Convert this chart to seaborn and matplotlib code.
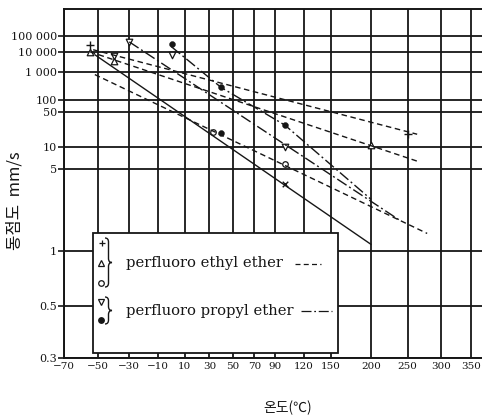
import numpy as np
import matplotlib
matplotlib.use('Agg')
import matplotlib.pyplot as plt
import seaborn as sns
from matplotlib.patches import Rectangle, PathPatch
from matplotlib.path import Path
from matplotlib.lines import Line2D
from matplotlib.transforms import Affine2D

W, H = 482, 418

# axis ticks
x_ticks = [-70, -50, -30, -10, 10, 30, 50, 70, 90, 120, 150, 200, 250, 300, 350]
x_labels = ['−70', '−50', '−30', '−10', '10', '30', '50', '70', '90',
            '120', '150', '200', '250', '300', '350']
y_ticks = [0.3, 0.5, 1, 5, 10, 50, 100, 1000, 10000, 100000]
y_labels = ['0.3', '0.5', '1', '5', '10', '50', '100', '1 000', '10 000', '100 000']

# perfluoro ethyl ether (dashed lines)
eth_plus_T = [-53, 264]
eth_plus_v = [12800, 16.6]
eth_tri_T = [-55, 264]
eth_tri_v = [9800, 6.3]
eth_circ_T = [-52, 279]
eth_circ_v = [770, 1.3]

# perfluoro propyl ether (dash-dot lines)
pro_tri_T = [-30, 240]
pro_tri_v = [39000, 1.6]
pro_dot_T = [0, 40, 100, 200]
pro_dot_v = [19100, 253, 25, 2.4]

# solid line
ref_T = [-52, 200]
ref_v = [6700, 1.1]

# measured points
mk_plus_T = [-55, 250]
mk_plus_v = [25500, 17]
mk_up_T = [-55, -40, 200]
mk_up_v = [9800, 3300, 11]
mk_circ_T = [33, 100]
mk_circ_v = [18, 5.8]
mk_down_T = [-30, -40, 0, 100]
mk_down_v = [40000, 5900, 6700, 10]
mk_dot_T = [0, 40, 40, 100]
mk_dot_v = [29300, 253, 17.5, 25]
mk_x_T = [100]
mk_x_v = [3.4]


def temp_fwd(t):
    return np.log10(np.asarray(t, float) + 273.15)


def temp_inv(u):
    return 10 ** np.asarray(u, float) - 273.15


def visc_fwd(v):
    v = np.asarray(v, float)
    with np.errstate(all='ignore'):
        z = v + 0.7 + np.exp(-1.47 - 1.84 * v - 0.51 * v ** 2)
        return np.log10(np.log10(z))


def visc_inv(y):
    y = np.asarray(y, float)
    with np.errstate(all='ignore'):
        z = 10 ** (10 ** y)
        v = z - 0.7
        for _ in range(30):
            v = z - 0.7 - np.exp(-1.47 - 1.84 * v - 0.51 * v ** 2)
    return v


sns.set_theme(style='white')
plt.rcParams['font.family'] = ['DejaVu Serif', 'Noto Sans CJK KR']
ink = '#161616'
eth_ls = (0, (4, 2.6))
pro_ls = (0, (8, 2.2, 1.4, 2.2))

fig = plt.figure(figsize=(W / 100, H / 100), dpi=100)
ax = fig.add_axes([64 / W, 1 - 358 / H, (W - 64) / W, 349 / H])
ax.set_xscale('function', functions=(temp_fwd, temp_inv))
ax.set_yscale('function', functions=(visc_fwd, visc_inv))

for T, v, ls in [(eth_plus_T, eth_plus_v, eth_ls), (eth_tri_T, eth_tri_v, eth_ls),
                 (eth_circ_T, eth_circ_v, eth_ls), (pro_tri_T, pro_tri_v, pro_ls),
                 (pro_dot_T, pro_dot_v, pro_ls), (ref_T, ref_v, '-')]:
    sns.lineplot(x=T, y=v, ax=ax, color=ink, lw=1.0, linestyle=ls,
                 sort=False, estimator=None)

sns.scatterplot(x=mk_plus_T, y=mk_plus_v, ax=ax, marker='+', s=28, color=ink, linewidth=1)
sns.scatterplot(x=mk_x_T, y=mk_x_v, ax=ax, marker='x', s=16, color=ink, linewidth=1)
sns.scatterplot(x=mk_up_T, y=mk_up_v, ax=ax, marker='^', s=22, color='white', edgecolor=ink, linewidth=0.9)
sns.scatterplot(x=mk_down_T, y=mk_down_v, ax=ax, marker='v', s=22, color='white', edgecolor=ink, linewidth=0.9)
sns.scatterplot(x=mk_circ_T, y=mk_circ_v, ax=ax, marker='o', s=16, color='white', edgecolor=ink, linewidth=0.9)
sns.scatterplot(x=mk_dot_T, y=mk_dot_v, ax=ax, marker='o', s=18, color=ink, edgecolor=ink)

ax.set_xlim(-70, 369)
ax.set_ylim(0.3, 2.1e7)
ax.set_xticks(x_ticks, x_labels)
ax.set_yticks(y_ticks, y_labels)
ax.minorticks_off()
ax.tick_params(axis='x', length=0, pad=3, labelsize=7.5, colors=ink)
ax.tick_params(axis='y', length=4, width=1.2, pad=1, labelsize=8, colors=ink, direction='out', left=True)
ax.grid(True, color=ink, lw=1.3)
ax.set_axisbelow(True)
for side in ['left', 'bottom', 'top']:
    ax.spines[side].set_color(ink)
    ax.spines[side].set_linewidth(1.4)
ax.spines['right'].set_visible(False)
ax.set_xlabel('')
ax.set_ylabel('')

# pixel-space transform for the key
pxT = Affine2D().scale(1 / W, -1 / H).translate(0, 1) + fig.transFigure

ax.add_patch(Rectangle(((92.7 - 64) / (W - 64), (358 - 352.7) / 349),
                       (338 - 92.7) / (W - 64), (352.7 - 233.3) / 349,
                       transform=ax.transAxes, facecolor='white', edgecolor=ink,
                       lw=1.3, zorder=1.5, clip_on=False))


def brace(x0, y0, y1, w):
    ym = (y0 + y1) / 2
    r = 4
    verts = [(x0, y0), (x0 + w / 2, y0), (x0 + w / 2, y0 + r),
             (x0 + w / 2, ym - r), (x0 + w / 2, ym), (x0 + w, ym),
             (x0 + w / 2, ym), (x0 + w / 2, ym + r),
             (x0 + w / 2, y1 - r), (x0 + w / 2, y1), (x0, y1)]
    codes = [Path.MOVETO, Path.CURVE3, Path.CURVE3, Path.LINETO, Path.CURVE3, Path.CURVE3,
             Path.CURVE3, Path.CURVE3, Path.LINETO, Path.CURVE3, Path.CURVE3]
    fig.add_artist(PathPatch(Path(verts, codes), fill=False, edgecolor=ink, lw=1.0, transform=pxT))


def key_marker(x, y, m, fc, ms):
    fig.add_artist(Line2D([x], [y], marker=m, ms=ms, mfc=fc, mec=ink, mew=0.9,
                          color=ink, linestyle='none', transform=pxT))


key_marker(101.5, 242.5, '+', ink, 5)
key_marker(101, 262.5, '^', 'white', 4.5)
key_marker(100.5, 282.5, 'o', 'white', 4)
key_marker(100.5, 301.5, 'v', 'white', 4.5)
key_marker(100.5, 320, 'o', ink, 4)
brace(105, 238, 287, 7)
brace(105, 297, 324, 7)

fig.text(126, 263, 'perfluoro ethyl ether', transform=pxT, fontsize=10.6,
         va='center', ha='left', color=ink)
fig.text(126, 311, 'perfluoro propyl ether', transform=pxT, fontsize=10.6,
         va='center', ha='left', color=ink)
fig.add_artist(Line2D([295, 321], [264, 264], color=ink, lw=0.9, linestyle=eth_ls, transform=pxT))
fig.add_artist(Line2D([301, 332], [311, 311], color=ink, lw=0.9, linestyle=pro_ls, transform=pxT))

fig.text(15, 201, '동점도  mm/s', transform=pxT, rotation=90, fontsize=12,
         va='center', ha='center', color=ink, family=['Noto Sans CJK KR', 'DejaVu Serif'])
fig.text(288, 408, '온도(℃)', transform=pxT, fontsize=10,
         va='center', ha='center', color=ink, family=['Noto Sans CJK KR', 'DejaVu Serif'])

fig.savefig('out.png', dpi=100)
